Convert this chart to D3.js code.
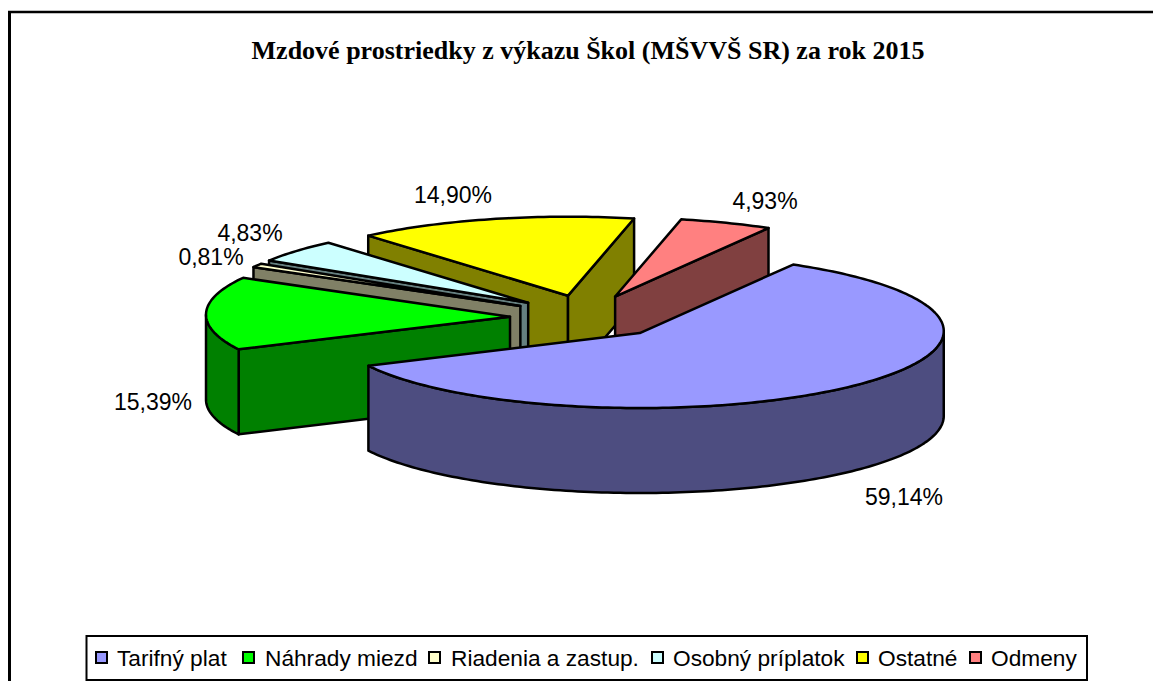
<!DOCTYPE html>
<html>
<head>
<meta charset="utf-8">
<script src="https://cdn.jsdelivr.net/npm/d3@7"></script>
<style>
	html, body { margin: 0; padding: 0; background: #fff; overflow: hidden; }
	text { fill: #000; }
	.label { font-family: "Liberation Sans", Arial, sans-serif; font-size: 23px; }
	.legend-label { font-family: "Liberation Sans", Arial, sans-serif; font-size: 22.7px; }
	.title { font-family: "Liberation Serif", "Times New Roman", serif; font-size: 26px; font-weight: bold; }
</style>
</head>
<body>
<div id="chart-area"></div>
<script>
// chart data
let categories = ["Tarifný plat", "Náhrady miezd", "Riadenia a zastup.", "Osobný príplatok", "Ostatné", "Odmeny"];
let shares = [59.14, 15.39, 0.81, 4.83, 14.90, 4.93];
let shareLabels = ["59,14%", "15,39%", "0,81%", "4,83%", "14,90%", "4,93%"];
let topColors = ["#9999ff", "#00ff00", "#ffffcc", "#ccffff", "#ffff00", "#ff8080"];
let sideColors = ["#4d4d80", "#008000", "#808066", "#668080", "#808000", "#804040"];
let chartTitle = "Mzdové prostriedky z výkazu Škol (MŠVVŠ SR) za rok 2015";

let width = 1153, height = 681;

let svg = d3.select("#chart-area").append("svg")
	.attr("width", width)
	.attr("height", height)
	.style("display", "block");

// outer chart frame, open at the bottom of the window
svg.append("line")
	.attr("x1", 9.5).attr("y1", 11)
	.attr("x2", 9.5).attr("y2", 681)
	.attr("stroke", "#000")
	.attr("stroke-width", 3);
svg.append("line")
	.attr("x1", 8).attr("y1", 12)
	.attr("x2", 1153).attr("y2", 12)
	.attr("stroke", "#000")
	.attr("stroke-width", 2.4);

svg.append("text")
	.attr("class", "title")
	.attr("x", 588)
	.attr("y", 59)
	.attr("text-anchor", "middle")
	.text(chartTitle);

// pie geometry: squashed ellipse with an extruded side, all slices pulled out
const cx = 587, cy = 317, rx = 304, ry = 77, depth = 85, rimShift = -2;
const explodeX = 77, explodeY = 22;
const tau = 2 * Math.PI;
const startAngle = 30.3 / 360 * tau;

let pie = d3.pie().sort(null).startAngle(startAngle).endAngle(startAngle + tau);
let slices = pie(shares).map((d, i) => {
	let mid = (d.startAngle + d.endAngle) / 2;
	return {
		i: i,
		a0: d.startAngle,
		a1: d.endAngle,
		ox: cx + explodeX * Math.sin(mid),
		oy: cy - explodeY * Math.cos(mid)
	};
});

function rimPoint(s, a, down) {
	return [s.ox + rx * Math.sin(a), s.oy + rimShift - ry * Math.cos(a) + (down ? depth : 0)];
}

function arcPoints(s, a0, a1, down) {
	let n = Math.max(2, Math.ceil((a1 - a0) / 0.02));
	return d3.range(n + 1).map(k => rimPoint(s, a0 + (a1 - a0) * k / n, down));
}

const line = d3.line();

function wallPath(s, a) {
	let apex = [s.ox, s.oy];
	let apexDown = [s.ox, s.oy + depth];
	return line([apex, rimPoint(s, a, false), rimPoint(s, a, true), apexDown]) + "Z";
}

function topPath(s) {
	return line([[s.ox, s.oy]].concat(arcPoints(s, s.a0, s.a1, false))) + "Z";
}

// front part of the rim only, between 90 and 270 degrees (also after wrapping)
function rimPaths(s) {
	let out = [];
	[[tau / 4, 3 * tau / 4], [tau + tau / 4, tau + 3 * tau / 4]].forEach(([lo, hi]) => {
		let a0 = Math.max(s.a0, lo), a1 = Math.min(s.a1, hi);
		if (a1 > a0) {
			let upper = arcPoints(s, a0, a1, false);
			let lower = arcPoints(s, a0, a1, true).reverse();
			out.push(line(upper.concat(lower)) + "Z");
		}
	});
	return out;
}

// back to front
let drawOrder = [4, 3, 2, 1, 5, 0];

let pieGroup = svg.append("g")
	.attr("stroke", "#000")
	.attr("stroke-width", 2.5)
	.attr("stroke-linejoin", "round");

drawOrder.forEach(idx => {
	let s = slices[idx];
	let g = pieGroup.append("g");
	let sides = [];
	if (Math.sin(s.a0) < 0) sides.push(wallPath(s, s.a0));
	if (Math.sin(s.a1) > 0) sides.push(wallPath(s, s.a1));
	sides = sides.concat(rimPaths(s));

	g.selectAll("path.side")
		.data(sides)
		.enter().append("path")
		.attr("class", "side")
		.attr("d", d => d)
		.attr("fill", sideColors[idx]);

	g.append("path")
		.attr("class", "top")
		.attr("d", topPath(s))
		.attr("fill", topColors[idx]);
});

// percent labels, same order as the slices
let labelX = [904, 153, 211, 250, 453, 765];
let labelY = [505, 410, 265, 241, 203, 209];

svg.selectAll("text.label")
	.data(shareLabels)
	.enter().append("text")
	.attr("class", "label")
	.attr("x", (d, i) => labelX[i])
	.attr("y", (d, i) => labelY[i])
	.attr("text-anchor", "middle")
	.text(d => d);

// legend
let legendSwatchX = [96, 243, 429, 652, 857, 970];
let legendTextX = [117, 265, 451, 673, 878, 991];

svg.append("rect")
	.attr("x", 86.5)
	.attr("y", 636)
	.attr("width", 1000.5)
	.attr("height", 44)
	.attr("fill", "#fff")
	.attr("stroke", "#000")
	.attr("stroke-width", 2);

let legendItems = svg.selectAll("g.legend-item")
	.data(categories)
	.enter().append("g")
	.attr("class", "legend-item");

legendItems.append("rect")
	.attr("x", (d, i) => legendSwatchX[i])
	.attr("y", 652)
	.attr("width", 11)
	.attr("height", 11)
	.attr("fill", (d, i) => topColors[i])
	.attr("stroke", "#000")
	.attr("stroke-width", 2);

legendItems.append("text")
	.attr("class", "legend-label")
	.attr("x", (d, i) => legendTextX[i])
	.attr("y", 666)
	.text(d => d);
</script>
</body>
</html>
